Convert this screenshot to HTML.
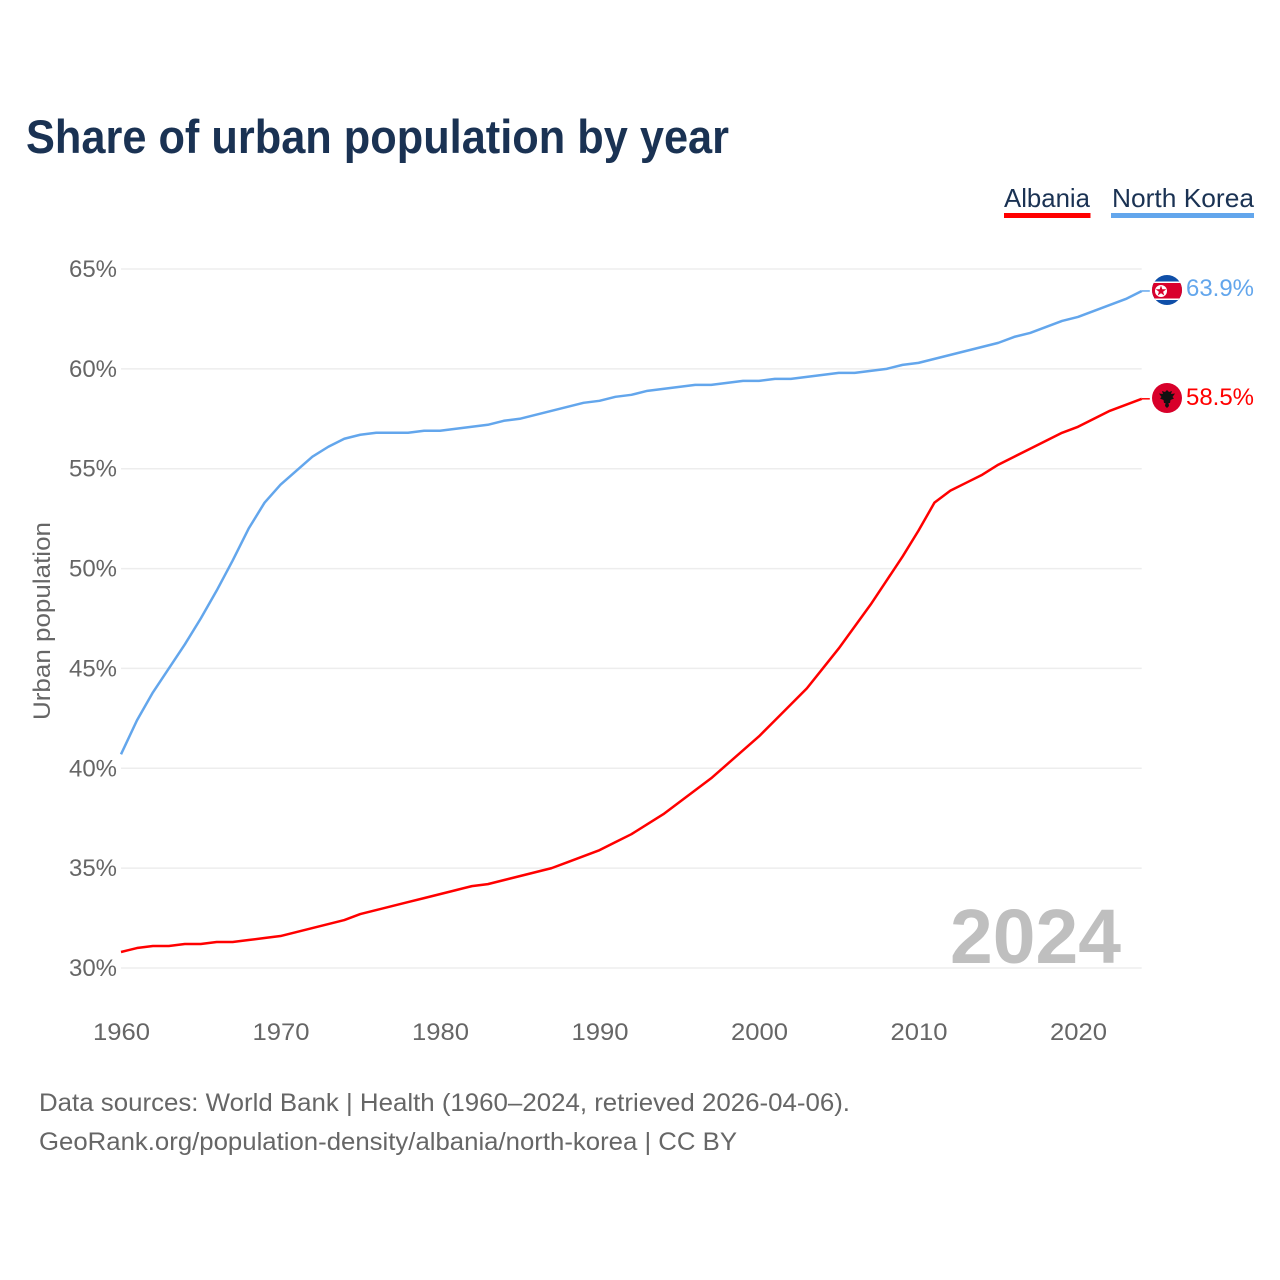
<!DOCTYPE html>
<html>
<head>
<meta charset="utf-8">
<style>
html,body{margin:0;padding:0;background:#fff}
svg{display:block}
text{font-family:"Liberation Sans",sans-serif}
</style>
</head>
<body>
<svg id="chart" width="1280" height="1280" viewBox="0 0 1280 1280" xmlns="http://www.w3.org/2000/svg">
  <defs>
    <clipPath id="clip-nk"><circle cx="1167" cy="290" r="15"/></clipPath>
    <clipPath id="clip-al"><circle cx="1167" cy="398" r="15"/></clipPath>
  </defs>
  <rect width="1280" height="1280" fill="#fff"/>
  <text x="26" y="153" font-size="47" font-weight="700" fill="#1a3253" textLength="703" lengthAdjust="spacingAndGlyphs">Share of urban population by year</text>

  <g>
    <text x="1004" y="207" font-size="26" fill="#1a3253" textLength="86" lengthAdjust="spacingAndGlyphs">Albania</text>
    <rect x="1004" y="213" width="86.500" height="5" fill="#ff0000"/>
  </g>
  <g>
    <text x="1112" y="207" font-size="26" fill="#1a3253" textLength="142" lengthAdjust="spacingAndGlyphs">North Korea</text>
    <rect x="1111" y="213" width="143" height="5" fill="#63a6ec"/>
  </g>

  <g id="grid"></g>
  <g id="yticks"></g>
  <g id="xticks"></g>
  <text transform="translate(50,720) rotate(-90)" font-size="24" fill="#666" textLength="198" lengthAdjust="spacingAndGlyphs">Urban population</text>

  <text x="950" y="963" font-size="77" font-weight="700" fill="#bfbfbf" textLength="171" lengthAdjust="spacingAndGlyphs">2024</text>

  <g id="lines"></g>

  <g clip-path="url(#clip-nk)">
    <rect x="1150" y="274" width="34" height="32" fill="#0f4fa8"/>
    <rect x="1150" y="281.500" width="34" height="1.500" fill="#fff"/>
    <rect x="1150" y="283" width="34" height="15.500" fill="#d9002c"/>
    <rect x="1150" y="298.500" width="34" height="1.500" fill="#fff"/>
    <circle cx="1161" cy="291" r="6" fill="#fff"/>
    <polygon points="1161,285.500 1162.300,289.300 1166.300,289.300 1163.100,291.700 1164.300,295.500 1161,293.200 1157.700,295.500 1158.900,291.700 1155.700,289.300 1159.700,289.300" fill="#d9002c"/>
  </g>
  <g clip-path="url(#clip-al)">
    <rect x="1150" y="382" width="34" height="32" fill="#d8002a"/>
    <polygon points="1167,390 1169,392 1172,391 1171,394 1175,393.500 1172.500,397 1174,398.500 1170.500,400 1170,403 1168.500,403 1169,406 1167,408 1165,406 1165.500,403 1164,403 1163.500,400 1160,398.500 1161.500,397 1159,393.500 1163,394 1162,391 1165,392" fill="#111"/>
  </g>

  <text x="1186" y="296" font-size="24" fill="#63a6ec" textLength="68" lengthAdjust="spacingAndGlyphs">63.9%</text>
  <text x="1186" y="405" font-size="24" fill="#ff0000" textLength="68" lengthAdjust="spacingAndGlyphs">58.5%</text>

  <text x="39" y="1111" font-size="25" fill="#666" textLength="811" lengthAdjust="spacingAndGlyphs">Data sources: World Bank | Health (1960–2024, retrieved 2026-04-06).</text>
  <text x="39" y="1150" font-size="25" fill="#666" textLength="698" lengthAdjust="spacingAndGlyphs">GeoRank.org/population-density/albania/north-korea | CC BY</text>
</svg>
<script>
const startYear = 1960;
const yTickValues = [30, 35, 40, 45, 50, 55, 60, 65];
const yTickLabels = ["30%", "35%", "40%", "45%", "50%", "55%", "60%", "65%"];
const xTickValues = [1960, 1970, 1980, 1990, 2000, 2010, 2020];
const xTickLabels = ["1960", "1970", "1980", "1990", "2000", "2010", "2020"];
const albaniaValues = [30.8,31.0,31.1,31.1,31.2,31.2,31.3,31.3,31.4,31.5,31.6,31.8,32.0,32.2,32.4,32.7,32.9,33.1,33.3,33.5,33.7,33.9,34.1,34.2,34.4,34.6,34.8,35.0,35.3,35.6,35.9,36.3,36.7,37.2,37.7,38.3,38.9,39.5,40.2,40.9,41.6,42.4,43.2,44.0,45.0,46.0,47.1,48.2,49.4,50.6,51.9,53.3,53.9,54.3,54.7,55.2,55.6,56.0,56.4,56.8,57.1,57.5,57.9,58.2,58.5];
const northKoreaValues = [40.7,42.4,43.8,45.0,46.2,47.5,48.9,50.4,52.0,53.3,54.2,54.9,55.6,56.1,56.5,56.7,56.8,56.8,56.8,56.9,56.9,57.0,57.1,57.2,57.4,57.5,57.7,57.9,58.1,58.3,58.4,58.6,58.7,58.9,59.0,59.1,59.2,59.2,59.3,59.4,59.4,59.5,59.5,59.6,59.7,59.8,59.8,59.9,60.0,60.2,60.3,60.5,60.7,60.9,61.1,61.3,61.6,61.8,62.1,62.4,62.6,62.9,63.2,63.5,63.9];

const NS = "http://www.w3.org/2000/svg";
function xScale(year) { return 121 + (year - 1960) * 15.95; }
function yScale(v) { return 968 - (v - 30) * (968 - 269) / 35; }
function make(tag, attrs, parent) {
  const el = document.createElementNS(NS, tag);
  for (const k in attrs) el.setAttribute(k, attrs[k]);
  parent.appendChild(el);
  return el;
}
const gridG = document.getElementById("grid");
const yG = document.getElementById("yticks");
const xG = document.getElementById("xticks");
const linesG = document.getElementById("lines");

yTickValues.forEach(function (v, i) {
  const line = make("line", {x1: 121, x2: 1141.7, y1: yScale(v), y2: yScale(v), stroke: "#ededed", "stroke-width": 1.5}, gridG);
  
  
  const t = make("text", {x: 69, y: yScale(v) + 8, "font-size": 24, fill: "#666", textLength: 48, lengthAdjust: "spacingAndGlyphs"}, yG);
  t.textContent = yTickLabels[i];
  
  
});

xTickValues.forEach(function (yr, i) {
  const t = make("text", {x: xScale(yr) - 28, y: 1040, "font-size": 24, fill: "#666", textLength: 57, lengthAdjust: "spacingAndGlyphs"}, xG);
  t.textContent = xTickLabels[i];
  
  
});

function drawSeries(values, color, name) {
  const pts = values.map(function (v, i) { return xScale(startYear + i).toFixed(2) + "," + yScale(v).toFixed(2); });
  const p = make("polyline", {points: pts.join(" "), fill: "none", stroke: color, "stroke-width": 2.5, "stroke-linejoin": "round"}, linesG);
  
  
  const last = values[values.length - 1];
  const lastX = xScale(startYear + values.length - 1);
  const stub = make("line", {x1: lastX, x2: lastX + 8, y1: yScale(last), y2: yScale(last), stroke: color, "stroke-width": 1.5}, linesG);
  
  
}
drawSeries(northKoreaValues, "#63a6ec", "line-north-korea");
drawSeries(albaniaValues, "#ff0000", "line-albania");
</script>
</body>
</html>
